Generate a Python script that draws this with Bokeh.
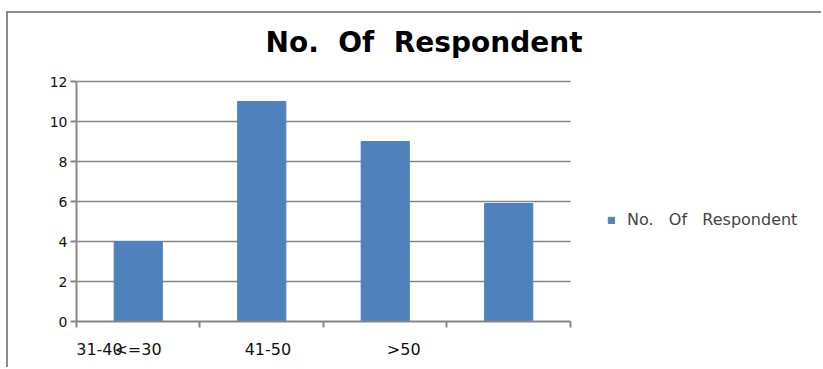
from bokeh.plotting import figure
from bokeh.models import Range1d, FixedTicker, Label, Legend, LegendItem
from bokeh.embed import file_html
from bokeh.resources import INLINE

# Respondents per age group
bar_values = [4, 11, 9, 5.9]
bar_index = [1, 2, 3, 4]

# Category axis labels as they appear under the axis
tick_labels = ["31-40", "<=30", "41-50", ">50"]
label_pos = [0.686, 0.998, 2.05, 3.15]
boundaries = [0.5, 1.5, 2.5, 3.5, 4.5]

y_ticks = [0, 2, 4, 6, 8, 10, 12]

words = ["No.", "Of", "Respondent"]
series_name = "\u00a0\u00a0\u00a0".join(words)
title_text = "\u00a0\u00a0".join(words)

BAR = "#4F81BD"
AXIS = "#868686"
FONT = "DejaVu Sans"

# The frame covers the whole chart area (title and legend live inside it);
# the axes are bounded to the plotting region on the left.
p = figure(
    width=815, height=356,
    x_range=Range1d(0.5, 6.549), y_range=Range1d(0, 15.4),
    output_backend="svg", toolbar_location=None,
    min_border_left=68, min_border_right=0,
    min_border_top=0, min_border_bottom=48,
)
p.styles = {
    "margin-left": "6px", "margin-top": "11px",
    "border-left": "2px solid #8c8c8c", "border-top": "2px solid #8c8c8c",
}
p.outline_line_color = None
p.background_fill_color = "white"
p.border_fill_color = "white"
p.xgrid.grid_line_color = None
p.ygrid.grid_line_color = None

# horizontal gridlines across the plotting region only
grid_y = y_ticks[1:]
p.segment(x0=[boundaries[0]] * len(grid_y), x1=[boundaries[-1]] * len(grid_y),
          y0=grid_y, y1=grid_y, line_color=AXIS, line_width=1.5)

r = p.vbar(x=bar_index, top=bar_values, width=0.39, fill_color=BAR, line_color=BAR)

# y axis
p.yaxis.bounds = (y_ticks[0], y_ticks[-1])
p.yaxis.ticker = FixedTicker(ticks=y_ticks)
p.yaxis.axis_line_color = AXIS
p.yaxis.axis_line_width = 2
p.yaxis.major_tick_line_color = AXIS
p.yaxis.major_tick_line_width = 2
p.yaxis.major_tick_out = 6
p.yaxis.major_tick_in = 0
p.yaxis.minor_tick_line_color = None
p.yaxis.major_label_standoff = 3
p.yaxis.major_label_text_font = FONT
p.yaxis.major_label_text_font_size = "14px"
p.yaxis.major_label_text_color = "#111111"

# x axis: boundary ticks as minor ticks, labels on major ticks
p.xaxis.bounds = (boundaries[0], boundaries[-1])
p.xaxis.ticker = FixedTicker(ticks=label_pos, minor_ticks=boundaries)
p.xaxis.major_label_overrides = {pos: lab for pos, lab in zip(label_pos, tick_labels)}
p.xaxis.axis_line_color = AXIS
p.xaxis.axis_line_width = 2
p.xaxis.major_tick_line_color = None
p.xaxis.minor_tick_line_color = AXIS
p.xaxis.minor_tick_line_width = 2
p.xaxis.minor_tick_out = 6
p.xaxis.minor_tick_in = 0
p.xaxis.major_label_standoff = 12
p.xaxis.major_label_text_font = FONT
p.xaxis.major_label_text_font_size = "16px"
p.xaxis.major_label_text_color = "#111111"

# chart title centred over the whole chart area
title = Label(x=3.314, y=13.95, text=title_text, text_font=FONT,
              text_font_size="28px", text_font_style="bold",
              text_align="center", text_baseline="middle", text_color="#000000")
p.add_layout(title)

# legend to the right of the bars
legend = Legend(items=[LegendItem(label=series_name, renderers=[r])],
                location=(531, 92), border_line_color=None,
                background_fill_alpha=0, label_text_font=FONT,
                label_text_font_size="16px", glyph_width=8, glyph_height=8,
                label_standoff=12, padding=0, margin=0)
p.add_layout(legend)

open("out.html", "w").write(file_html(p, INLINE))
